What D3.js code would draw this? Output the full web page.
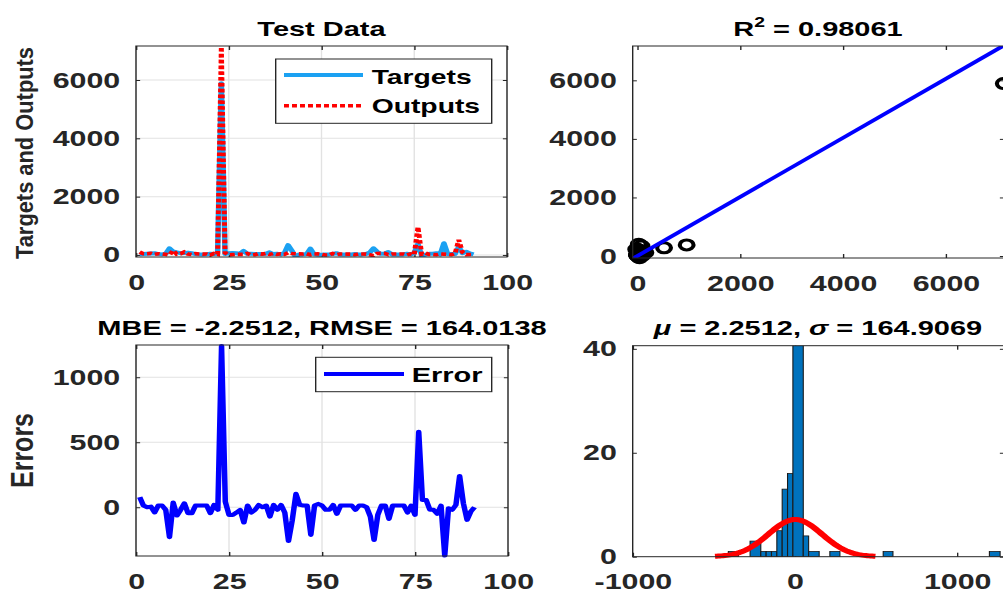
<!DOCTYPE html>
<html>
<head>
<meta charset="utf-8">
<script src="https://cdn.jsdelivr.net/npm/d3@7"></script>
<style>
  body { margin: 0; background: #fff; }
  svg { display: block; }
</style>
</head>
<body>
<svg id="chart"></svg>
<script>
// data
var sampleNo = d3.range(1, 92);
var targets = [20,30,40,50,60,30,20,40,230,120, 90,60,70,80,60,30,20,15,20,40,
  30,40,5890,30,60,70,60,40,140,40, 40,30,30,30,40,90,30,40,20,60,
  340,150,-60,20,20,30,220,20,10,10, 20,20,30,60,20,20,15,15,30,20,
  20,30,80,230,110,40,40,100,20,20, 20,20,40,20,70,380,-30,10,40,40,
  60,20,400,30,30,30,280,60,110,50, 20];
var outputs = [97,43,40,55,20,43,33,20,0,156, 26,40,100,34,14,43,33,28,33,-6,
  48,20,7130,74,1,11,19,20,22,53, -1,10,48,30,53,18,48,20,38,19,
  80,50,43,38,33,43,7,33,36,23, 0,0,48,9,33,33,28,28,10,33,
  33,30,8,-22,51,53,53,10,33,33, 33,33,-1,33,11,960,26,66,20,20,
  9,33,28,22,10,48,520,91,13,17, 20];
var errors = [77,13,0,5,-40,13,13,-20,-230,36, -64,-20,30,-46,-46,13,13,13,13,-46,
  18,-20,1240,44,-59,-59,-41,-20,-118,13, -41,-20,18,0,13,-72,18,-20,18,-41,
  -260,-100,103,18,13,13,-213,13,26,13, -20,-20,18,-51,13,13,13,13,-20,13,
  13,0,-72,-252,-59,13,13,-90,13,13, 13,13,-41,13,-59,580,56,56,-20,-20,
  -51,13,-372,-8,-20,18,240,31,-97,-33, 0];

// histogram bars as drawn (left edge, right edge, count)
var binLo     = [-410,-276,-210,-177,-144,-111,-78,-45,-12, 52, 85,216,545,1200];
var binHi     = [-348,-210,-177,-144,-111, -78,-45,-12, 52, 85,150,278,605,1266];
var binCount  = [   1,   3,   1,   1,   1,   5, 13, 16, 41,  4,  1,  1,  1,   1];

var mu = 2.2512, sigma = 164.9069, binWidth = 32.5;
var fitSlope = 1.0085, fitIntercept = 0;

var tlXTicks = [0,25,50,75,100], tlYTicks = [0,2000,4000,6000];
var trXTicks = [0,2000,4000,6000], trYTicks = [0,2000,4000,6000];
var blXTicks = [0,25,50,75,100], blYTicks = [0,500,1000];
var brXTicks = [-1000,0,1000], brYTicks = [0,20,40];

// the picture is stretched sideways, so draw in a narrower space and stretch it
var sx = 1.38, W = 1003, H = 595;
function px(v) { return v / sx; }

var svg = d3.select("#chart")
    .attr("width", W).attr("height", H)
    .attr("viewBox", "0 0 " + (W / sx) + " " + H)
    .attr("preserveAspectRatio", "none")
    .style("font-family", "Arial, 'Liberation Sans', sans-serif");

var ink = "#262626";

function panel(id, x0, x1, y0, y1) {
  var g = svg.append("g").attr("transform", "translate(" + px(x0) + "," + y0 + ")");
  svg.append("clipPath").attr("id", id)
    .append("rect").attr("width", px(x1 - x0)).attr("height", y1 - y0);
  return {g: g, w: px(x1 - x0), h: y1 - y0, clip: "url(#" + id + ")"};
}

function frame(p, x, y, xt, yt, grid) {
  var g = p.g;
  if (grid) {
    g.append("g").selectAll("line").data(xt).enter().append("line")
      .attr("x1", function(d) { return x(d); }).attr("x2", function(d) { return x(d); })
      .attr("y1", 0).attr("y2", p.h)
      .attr("stroke", "#e2e2e2").attr("stroke-width", 1);
    g.append("g").selectAll("line").data(yt).enter().append("line")
      .attr("y1", function(d) { return y(d); }).attr("y2", function(d) { return y(d); })
      .attr("x1", 0).attr("x2", p.w)
      .attr("stroke", "#e2e2e2").attr("stroke-width", 1);
  }
  var fmt = function(d) { return String(d); };
  var axes = [
    g.append("g").attr("transform", "translate(0," + p.h + ")")
      .call(d3.axisBottom(x).tickValues(xt).tickSizeInner(-4).tickSizeOuter(0).tickPadding(17).tickFormat(fmt)),
    g.append("g")
      .call(d3.axisTop(x).tickValues(xt).tickSizeInner(-4).tickSizeOuter(0).tickFormat("")),
    g.append("g")
      .call(d3.axisLeft(y).tickValues(yt).tickSizeInner(-3).tickSizeOuter(0).tickPadding(11.5).tickFormat(fmt)),
    g.append("g").attr("transform", "translate(" + p.w + ",0)")
      .call(d3.axisRight(y).tickValues(yt).tickSizeInner(-3).tickSizeOuter(0).tickFormat(""))
  ];
  axes.forEach(function(a) {
    a.style("color", ink).attr("font-family", null).attr("font-size", 22).attr("font-weight", "bold");
    a.select(".domain").remove();
  });
}

function border(p) {
  p.g.append("rect").attr("width", p.w).attr("height", p.h)
    .attr("fill", "none").attr("stroke", ink).attr("stroke-width", 1);
}

function title(cx, y, fill) {
  var t = svg.append("text").attr("x", px(cx)).attr("y", y)
    .attr("text-anchor", "middle").attr("font-size", 21).attr("font-weight", "bold").attr("fill", "#000");
  fill(t);
}

function ylabel(text, cy, size, len) {
  svg.append("text").attr("transform", "translate(" + px(33) + "," + cy + ") rotate(-90)")
    .attr("text-anchor", "middle").attr("font-size", size).attr("font-weight", "bold").attr("fill", ink)
    .attr("textLength", len).attr("lengthAdjust", "spacingAndGlyphs")
    .text(text);
}

// ---------- top left: targets and outputs ----------
var tl = panel("clipTL", 136, 507, 46, 257);
var xTL = d3.scaleLinear().domain([0, 100]).range([0, tl.w]);
var yTL = d3.scaleLinear().domain([-70, 7165]).range([tl.h, 0]);
frame(tl, xTL, yTL, tlXTicks, tlYTicks, true);

var lineTL = function(vals) {
  return d3.line().x(function(d, i) { return xTL(sampleNo[i]); }).y(function(d) { return yTL(d); })(vals);
};
tl.g.append("path").attr("d", lineTL(targets)).attr("clip-path", tl.clip)
  .attr("fill", "none").attr("stroke", "#1ba1f2").attr("stroke-width", 4).attr("stroke-linejoin", "round");
tl.g.append("path").attr("d", lineTL(outputs)).attr("clip-path", tl.clip)
  .attr("fill", "none").attr("stroke", "#ff0000").attr("stroke-width", 3.6).attr("stroke-dasharray", "3.6,2.2");
border(tl);

// legend
var lgA = svg.append("g");
lgA.append("rect").attr("x", px(275.7)).attr("y", 59).attr("width", px(216)).attr("height", 64.3)
  .attr("fill", "#fff").attr("stroke", ink).attr("stroke-width", 1);
lgA.append("line").attr("x1", px(284)).attr("x2", px(363)).attr("y1", 75).attr("y2", 75)
  .attr("stroke", "#1ba1f2").attr("stroke-width", 4);
lgA.append("line").attr("x1", px(284)).attr("x2", px(363)).attr("y1", 105.7).attr("y2", 105.7)
  .attr("stroke", "#ff0000").attr("stroke-width", 3.6).attr("stroke-dasharray", "3.6,2.2");
lgA.append("text").attr("x", px(371.7)).attr("y", 84).text("Targets")
  .attr("font-size", 20.5).attr("font-weight", "bold");
lgA.append("text").attr("x", px(371.7)).attr("y", 113.5).text("Outputs")
  .attr("font-size", 20.5).attr("font-weight", "bold");

title(321.5, 36, function(t) { t.text("Test Data"); });
ylabel("Targets and Outputs", 153, 17, 212);

// ---------- top right: regression ----------
var tr = panel("clipTR", 632.7, 1004, 46, 258);
var xTR = d3.scaleLinear().domain([-90, 7134]).range([0, tr.w]);
var yTR = d3.scaleLinear().domain([-68, 7172]).range([tr.h, 0]);
frame(tr, xTR, yTR, trXTicks, trYTicks, false);
tr.g.append("g").selectAll("circle").data(outputs).enter().append("circle")
  .attr("cx", function(d) { return xTR(d); })
  .attr("cy", function(d, i) { return yTR(targets[i]); })
  .attr("r", 5).attr("fill", "none").attr("stroke", "#000").attr("stroke-width", 3);
var fitX = xTR.domain();
tr.g.append("line").attr("clip-path", tr.clip)
  .attr("x1", xTR(fitX[0])).attr("y1", yTR(fitSlope * fitX[0] + fitIntercept))
  .attr("x2", xTR(fitX[1])).attr("y2", yTR(fitSlope * fitX[1] + fitIntercept))
  .attr("stroke", "#0000ff").attr("stroke-width", 3.5);
border(tr);
title(818, 36, function(t) {
  t.append("tspan").text("R");
  t.append("tspan").attr("font-size", 14).attr("dy", -9).text("2");
  t.append("tspan").attr("dy", 9).text(" = 0.98061");
});

// ---------- bottom left: errors ----------
var bl = panel("clipBL", 136, 508, 345, 556);
var xBL = d3.scaleLinear().domain([0, 100]).range([0, bl.w]);
var yBL = d3.scaleLinear().domain([-375, 1248]).range([bl.h, 0]);
frame(bl, xBL, yBL, blXTicks, blYTicks, true);
bl.g.append("path")
  .attr("d", d3.line().x(function(d, i) { return xBL(sampleNo[i]); }).y(function(d) { return yBL(d); })(errors))
  .attr("fill", "none").attr("stroke", "#0000ff").attr("stroke-width", 4).attr("stroke-linejoin", "round");
border(bl);

var lgB = svg.append("g");
lgB.append("rect").attr("x", px(315.7)).attr("y", 357.3).attr("width", px(176)).attr("height", 34.4)
  .attr("fill", "#fff").attr("stroke", ink).attr("stroke-width", 1);
lgB.append("line").attr("x1", px(324)).attr("x2", px(404)).attr("y1", 374).attr("y2", 374)
  .attr("stroke", "#0000ff").attr("stroke-width", 4);
lgB.append("text").attr("x", px(411.7)).attr("y", 382.3).text("Error")
  .attr("font-size", 21).attr("font-weight", "bold");

title(322, 335, function(t) { t.text("MBE = -2.2512, RMSE = 164.0138"); });
ylabel("Errors", 450.5, 23, 75);

// ---------- bottom right: histogram ----------
var br = panel("clipBR", 632.7, 1004, 345.7, 556.7);
var xBR = d3.scaleLinear().domain([-1000, 1290]).range([0, br.w]);
var yBR = d3.scaleLinear().domain([0, 40.6]).range([br.h, 0]);
frame(br, xBR, yBR, brXTicks, brYTicks, false);
br.g.append("g").attr("clip-path", br.clip).selectAll("rect").data(binCount).enter().append("rect")
  .attr("x", function(d, i) { return xBR(binLo[i]); })
  .attr("width", function(d, i) { return xBR(binHi[i]) - xBR(binLo[i]); })
  .attr("y", function(d) { return yBR(d); })
  .attr("height", function(d) { return yBR(0) - yBR(d); })
  .attr("fill", "#0072bd").attr("stroke", "#1a1a1a").attr("stroke-width", 0.8);
// fitted normal curve, mu +- 3 sigma
var nTotal = errors.length;
var curveX = d3.range(0, 101).map(function(k) { return mu - 3 * sigma + k * 6 * sigma / 100; });
br.g.append("path")
  .attr("d", d3.line()
    .x(function(d) { return xBR(d); })
    .y(function(d) {
      var z = (d - mu) / sigma;
      return yBR(nTotal * binWidth * Math.exp(-0.5 * z * z) / (sigma * Math.sqrt(2 * Math.PI)));
    })(curveX))
  .attr("fill", "none").attr("stroke", "#ff0000").attr("stroke-width", 5);
border(br);
title(818, 335, function(t) {
  t.append("tspan").attr("font-style", "italic").text("\u03bc");
  t.append("tspan").text(" = 2.2512, ");
  t.append("tspan").attr("font-style", "italic").text("\u03c3");
  t.append("tspan").text(" = 164.9069");
});
</script>
</body>
</html>
